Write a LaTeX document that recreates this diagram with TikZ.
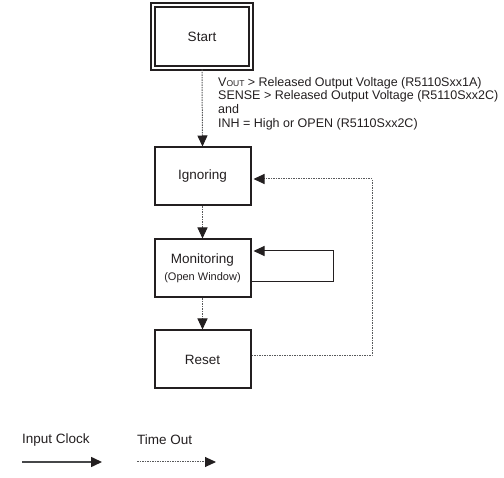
\documentclass[tikz,border=0pt]{standalone}
\usepackage{fontspec}
\setmainfont{Liberation Sans}
\usetikzlibrary{arrows.meta}
\definecolor{ink}{HTML}{231F20}
\definecolor{dotgray}{HTML}{58595B}
\begin{document}
\begin{tikzpicture}[x=1pt,y=-1pt,
  statebox/.style={draw=ink, line width=2pt, minimum width=96pt, minimum height=58pt, inner sep=0pt, align=center, font=\fontsize{13.5}{15}\selectfont, text=ink},
  timeout/.style={draw=dotgray, line width=1pt, dash pattern=on 1.5pt off 1pt, -{Triangle[length=11pt,width=10pt,color=ink,fill=ink]}},
  clock/.style={draw=ink, line width=1pt, -{Triangle[length=11pt,width=10pt]}},
  legendclock/.style={draw=dotgray!80!black, line width=1.6pt, -{Triangle[length=11pt,width=10pt,color=ink,fill=ink]}},
  lbl/.style={text=ink, inner sep=0pt, font=\fontsize{13.5}{15}\selectfont}
]
\useasboundingbox (0,0) rectangle (504,478);
\node[statebox, minimum width=98pt, minimum height=63pt, double=white, draw=ink, line width=2pt, double distance=2pt] (start) at (202,37) {Start};
\node[statebox] (ign) at (202.5,176.5) {Ignoring};
\node[statebox] (mon) at (202.5,268.5) {Monitoring\\[2pt]{\fontsize{11}{12}\selectfont (Open Window)}};
\node[statebox] (rst) at (202.5,359.5) {Reset};

\node[anchor=north west, align=left, inner sep=0pt, text=ink, font=\fontsize{12.5}{13.7}\selectfont] (cond) at (218,77)
  {V{\fontsize{8.5}{10}\selectfont OUT} > Released Output Voltage (R5110Sxx1A)\\
   SENSE > Released Output Voltage (R5110Sxx2C)\\
   and\\
   INH = High or OPEN (R5110Sxx2C)};

\draw[timeout] (start.south) -- (ign.north);
\draw[timeout] (ign.south) -- (mon.north);
\draw[timeout] (mon.south) -- (rst.north);

\coordinate (fbR) at (372,356);
\coordinate (fbT) at (372,179);
\draw[timeout] ([yshift=3.5pt]rst.east) -- (fbR) -- (fbT) -- ([xshift=2pt,yshift=-2.5pt]ign.east);

\coordinate (lpB) at (333,282);
\coordinate (lpT) at (333,251);
\draw[clock] ([yshift=-13.5pt]mon.east) -- (lpB) -- (lpT) -- ([xshift=2pt,yshift=17.5pt]mon.east);

\node[lbl, anchor=west] (lic) at (22,440) {Input Clock};
\node[lbl, anchor=west] (lto) at (137,440) {Time Out};
\coordinate (licA) at (22,462);
\coordinate (licB) at (102,462);
\coordinate (ltoA) at (137,462);
\coordinate (ltoB) at (216,462);
\draw[legendclock] (licA) -- (licB);
\draw[timeout] (ltoA) -- (ltoB);
\end{tikzpicture}
\end{document}
